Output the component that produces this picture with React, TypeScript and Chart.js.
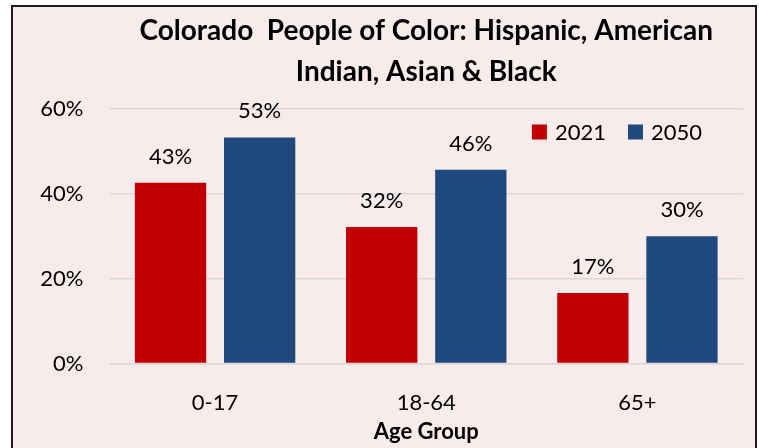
import React, { useEffect, useRef } from "react";
import { Chart, registerables } from "chart.js";

Chart.register(...registerables);

const titleLines = ["Colorado  People of Color: Hispanic, American", "Indian, Asian & Black"];
const categories = ["0-17", "18-64", "65+"];
const seriesNames = ["2021", "2050"];
const values2021 = [0.426, 0.322, 0.166];
const values2050 = [0.533, 0.457, 0.3];
const seriesColors = ["#C00000", "#1F497D"];
const yTickValues = [0, 0.2, 0.4, 0.6];
const xAxisTitle = "Age Group";

const FONT = "Lato, 'Open Sans', sans-serif";

const pct = (v: number) => `${Math.round(v * 100)}%`;

const dataLabelPlugin = {
  id: "dataLabels",
  afterDatasetsDraw(chart: any) {
    const ctx = chart.ctx;
    ctx.save();
    ctx.font = `22px ${FONT}`;
    ctx.fillStyle = "#000";
    ctx.textAlign = "center";
    ctx.textBaseline = "alphabetic";
    chart.data.datasets.forEach((ds: any, di: number) => {
      const meta = chart.getDatasetMeta(di);
      meta.data.forEach((bar: any, i: number) => {
        ctx.fillText(pct(ds.data[i]), bar.x, bar.y - 19);
      });
    });
    ctx.restore();
  },
};

const legendPlugin = {
  id: "insideLegend",
  afterDraw(chart: any) {
    const ctx = chart.ctx;
    const area = chart.chartArea;
    ctx.save();
    ctx.font = `22px ${FONT}`;
    ctx.textBaseline = "middle";
    ctx.textAlign = "left";
    const box = 15;
    const gapText = 8;
    const gapItem = 22;
    const items = chart.data.datasets.map((ds: any) => ({
      label: ds.label,
      color: ds.backgroundColor,
      w: box + gapText + ctx.measureText(ds.label).width,
    }));
    const total = items.reduce((s: number, it: any) => s + it.w, 0) + gapItem * (items.length - 1);
    let x = area.right - 41 - total;
    const cy = area.top + 23;
    items.forEach((it: any) => {
      ctx.fillStyle = it.color;
      ctx.fillRect(x, cy - box / 2, box, box);
      ctx.fillStyle = "#000";
      ctx.fillText(it.label, x + box + gapText, cy + 1);
      x += it.w + gapItem;
    });
    ctx.restore();
  },
};

export default function App() {
  const canvasRef = useRef<HTMLCanvasElement | null>(null);

  useEffect(() => {
    if (!canvasRef.current) return;
    const chart = new Chart(canvasRef.current, {
      type: "bar",
      data: {
        labels: categories,
        datasets: [
          {
            label: seriesNames[0],
            data: values2021,
            backgroundColor: seriesColors[0],
            categoryPercentage: 0.844,
            barPercentage: 0.8,
          },
          {
            label: seriesNames[1],
            data: values2050,
            backgroundColor: seriesColors[1],
            categoryPercentage: 0.844,
            barPercentage: 0.8,
          },
        ],
      },
      options: {
        animation: false,
        responsive: false,
        maintainAspectRatio: false,
        layout: { padding: { left: 0, right: 16, top: 0, bottom: 3 } },
        plugins: {
          legend: { display: false },
          tooltip: { enabled: false },
          title: {
            display: true,
            fullSize: false,
            text: titleLines,
            color: "#000",
            font: { family: FONT, size: 28, weight: "bold", lineHeight: 41 / 28 },
            padding: { top: 10.5, bottom: 16.5 },
          },
        },
        scales: {
          x: {
            grid: { display: false, drawTicks: false },
            border: { display: true, color: "#D9D9D9", width: 1.5 },
            afterFit: (scale: any) => {
              scale.height = 81.5;
            },
            ticks: {
              color: "#000",
              font: { family: FONT, size: 22 },
              padding: 26.5,
            },
            title: {
              display: true,
              text: xAxisTitle,
              color: "#000",
              font: { family: FONT, size: 22, weight: "bold" },
              padding: { top: 3, bottom: 0 },
            },
          },
          y: {
            min: 0,
            max: 0.6,
            afterBuildTicks: (scale: any) => {
              scale.ticks = yTickValues.map((v) => ({ value: v }));
            },
            afterFit: (scale: any) => {
              scale.width = 109.5;
            },
            grid: { color: "#D9D9D9", lineWidth: 1.5, drawTicks: false },
            border: { display: false },
            ticks: {
              color: "#000",
              font: { family: FONT, size: 22 },
              padding: 26,
              callback: (v: any) => pct(Number(v)),
            },
          },
        },
      },
      plugins: [dataLabelPlugin, legendPlugin],
    });
    return () => chart.destroy();
  }, []);

  return (
    <div style={{ position: "fixed", left: 0, top: 0, width: 759, height: 448, background: "#fff", overflow: "hidden" }}>
      <div
        style={{
          position: "absolute",
          left: 11,
          top: 5,
          width: 746,
          height: 500,
          boxSizing: "border-box",
          border: "2px solid #1a1a1a",
          background: "#F8EBEB",
        }}
      />
      <canvas ref={canvasRef} width={759} height={448} style={{ position: "absolute", left: 0, top: 0, width: 759, height: 448 }} />
    </div>
  );
}
